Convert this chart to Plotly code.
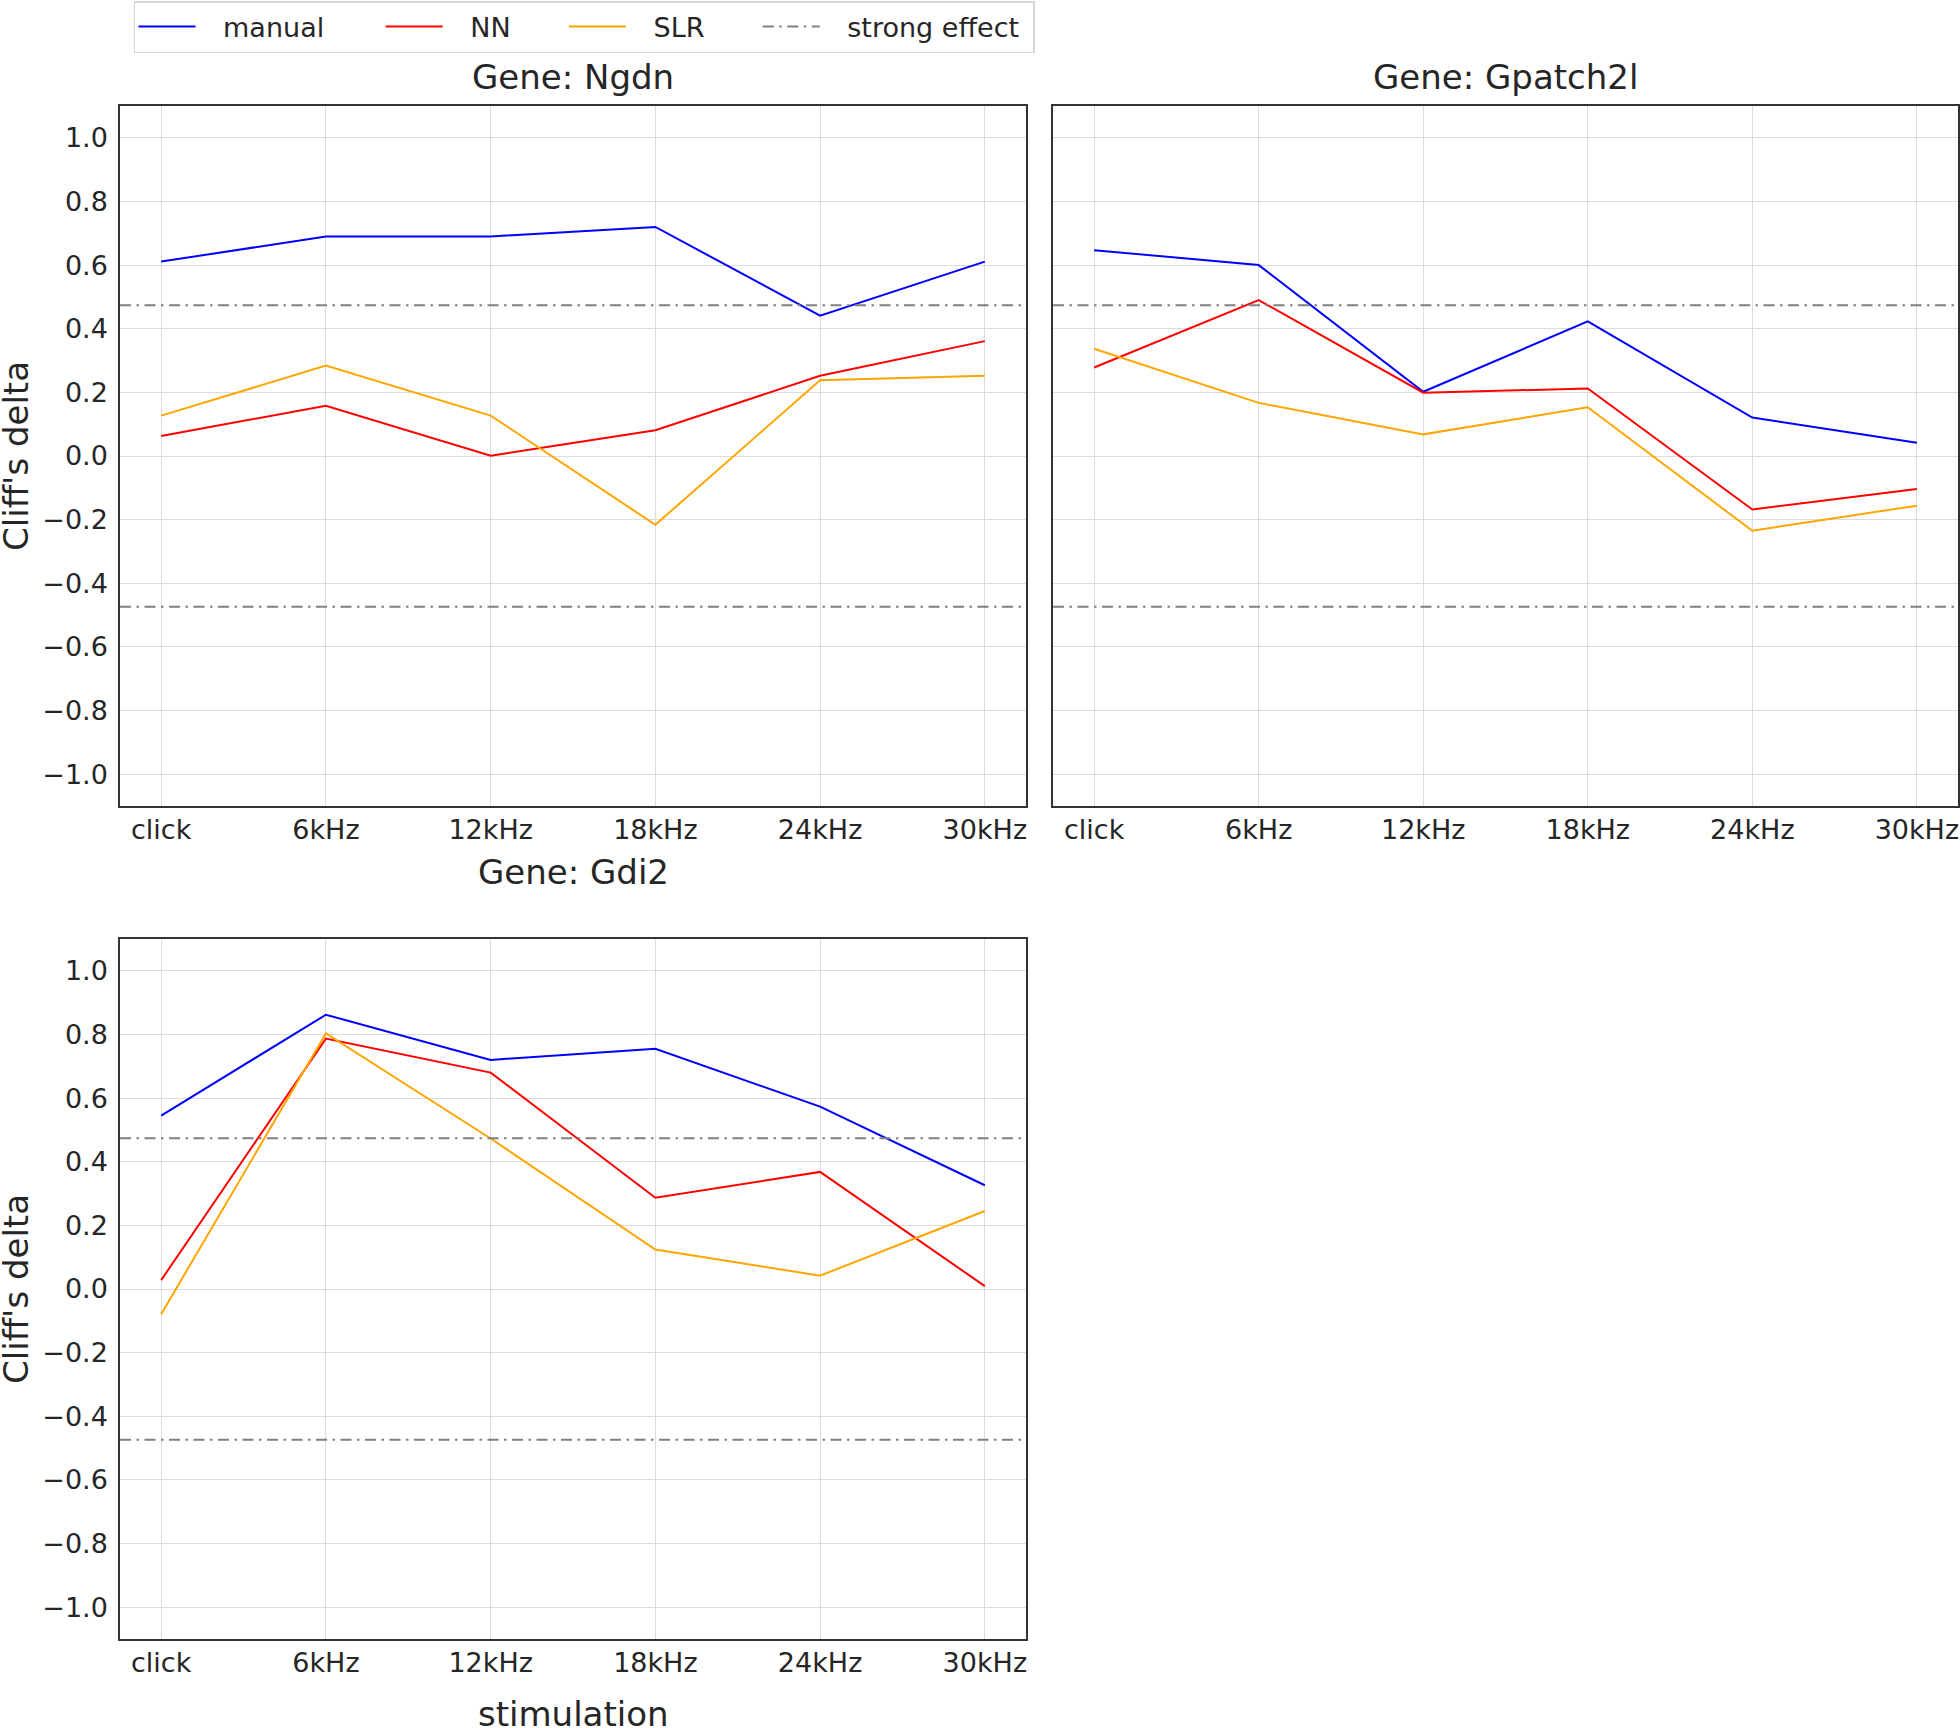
import plotly.graph_objects as go

stimuli = ["click", "6kHz", "12kHz", "18kHz", "24kHz", "30kHz"]
genes = ["Ngdn", "Gpatch2l", "Gdi2"]

ngdn_manual = [0.611, 0.690, 0.690, 0.720, 0.441, 0.611]
ngdn_nn = [0.063, 0.158, 0.001, 0.081, 0.252, 0.361]
ngdn_slr = [0.127, 0.284, 0.127, -0.216, 0.238, 0.252]

gpatch2l_manual = [0.647, 0.600, 0.202, 0.423, 0.121, 0.042]
gpatch2l_nn = [0.278, 0.490, 0.199, 0.212, -0.168, -0.104]
gpatch2l_slr = [0.337, 0.167, 0.068, 0.153, -0.235, -0.156]

gdi2_manual = [0.545, 0.862, 0.720, 0.755, 0.573, 0.326]
gdi2_nn = [0.028, 0.787, 0.680, 0.287, 0.368, 0.009]
gdi2_slr = [-0.079, 0.803, 0.473, 0.124, 0.042, 0.245]

strong_effect = 0.474
y_ticks = [-1.0, -0.8, -0.6, -0.4, -0.2, 0.0, 0.2, 0.4, 0.6, 0.8, 1.0]
y_tick_text = ["\u22121.0", "\u22120.8", "\u22120.6", "\u22120.4", "\u22120.2", "0.0", "0.2", "0.4", "0.6", "0.8", "1.0"]

series_names = ["manual", "NN", "SLR"]
series_colors = ["#0000ff", "#ff0000", "#ffa500"]
panel_data = [
    [ngdn_manual, ngdn_nn, ngdn_slr],
    [gpatch2l_manual, gpatch2l_nn, gpatch2l_slr],
    [gdi2_manual, gdi2_nn, gdi2_slr],
]

W, H = 1960, 1728
FONT = "DejaVu Sans"
TXT = "#262626"
NB = "\u00a0"
TH = "\u2009"
x_idx = list(range(len(stimuli)))
x_range = [-0.25, len(stimuli) - 0.75]

# leading / trailing padding of legend labels (mimics matplotlib handletextpad / columnspacing)
lead_pad = NB * 2 + TH
trail_pad = {"manual": NB * 6, "NN": NB * 5 + TH, "SLR": NB * 5 + TH, "strong effect": NB}


def legend_label(name):
    return lead_pad + name + trail_pad[name]


# panel domains (paper fractions)
domains = [
    ([120 / W, 1026 / W], [1 - 806 / H, 1 - 106 / H]),
    ([1053 / W, 1958 / W], [1 - 806 / H, 1 - 106 / H]),
    ([120 / W, 1026 / W], [1 - 1639 / H, 1 - 939 / H]),
]

fig = go.Figure()
for p, series in enumerate(panel_data):
    xa = "x" if p == 0 else f"x{p+1}"
    ya = "y" if p == 0 else f"y{p+1}"
    for s, vals in enumerate(series):
        fig.add_trace(go.Scatter(
            x=x_idx, y=vals, mode="lines", name=legend_label(series_names[s]),
            line=dict(color=series_colors[s], width=2),
            xaxis=xa, yaxis=ya, showlegend=(p == 0),
            legendgroup=series_names[s],
        ))
    for sign in (1, -1):
        fig.add_trace(go.Scatter(
            x=x_range, y=[sign * strong_effect] * 2, mode="lines",
            name=legend_label("strong effect"),
            line=dict(color="#808080", width=2, dash="11px,5.5px,2.5px,5.5px"),
            xaxis=xa, yaxis=ya, showlegend=(p == 0 and sign == 1),
            legendgroup="strong",
        ))

layout = dict(
    width=W, height=H,
    margin=dict(l=0, r=0, t=0, b=0),
    paper_bgcolor="white", plot_bgcolor="white",
    font=dict(family=FONT, size=27, color=TXT),
    legend=dict(
        orientation="h", x=133.5 / W, xanchor="left", y=1 - 1 / H, yanchor="top",
        bordercolor="#d6d6d6", borderwidth=1.5, bgcolor="white",
        font=dict(size=27, color=TXT), itemwidth=57,
        tracegroupgap=0,
    ),
)
for p, (dx, dy) in enumerate(domains):
    sfx = "" if p == 0 else str(p + 1)
    layout["xaxis" + sfx] = dict(
        domain=dx, range=x_range, tickmode="array", tickvals=x_idx,
        ticktext=stimuli, showgrid=True, gridcolor="#dcdcdc", gridwidth=1,
        zeroline=False, showline=True, mirror=True, linecolor="#333333",
        linewidth=1.5, ticks="", tickfont=dict(size=27, color=TXT),
        anchor="y" + sfx, ticklabelstandoff=-1,
    )
    layout["yaxis" + sfx] = dict(
        domain=dy, range=[-1.1, 1.1], tickmode="array", tickvals=y_ticks,
        ticktext=y_tick_text, showgrid=True, gridcolor="#dcdcdc", gridwidth=1,
        zeroline=False, showline=True, mirror=True, linecolor="#333333",
        linewidth=1.5, ticks="", tickfont=dict(size=27, color=TXT),
        anchor="x" + sfx, showticklabels=(p != 1), ticklabelstandoff=5,
    )

fig.update_layout(**layout)

# subplot titles
title_pos = [((120 + 1026) / 2 / W, 1 - 77 / H),
             ((1053 + 1958) / 2 / W, 1 - 77 / H),
             ((120 + 1026) / 2 / W, 1 - 872 / H)]
for g, (tx, ty) in zip(genes, title_pos):
    fig.add_annotation(text=f"Gene: {g}", x=tx, y=ty, xref="paper", yref="paper",
                       showarrow=False, font=dict(size=34, color=TXT),
                       xanchor="center", yanchor="middle")

# axis titles
for cy in (1 - 456 / H, 1 - 1289 / H):
    fig.add_annotation(text="Cliff's delta", x=16 / W, y=cy, xref="paper", yref="paper",
                       showarrow=False, textangle=-90, font=dict(size=34, color=TXT),
                       xanchor="center", yanchor="middle")
fig.add_annotation(text="stimulation", x=(120 + 1026) / 2 / W, y=1 - 1714 / H,
                   xref="paper", yref="paper", showarrow=False,
                   font=dict(size=34, color=TXT), xanchor="center", yanchor="middle")

fig.write_html(
    "out.html",
    config={"displayModeBar": False},
    post_script="document.body.style.margin='0';document.body.style.overflow='hidden';",
)
